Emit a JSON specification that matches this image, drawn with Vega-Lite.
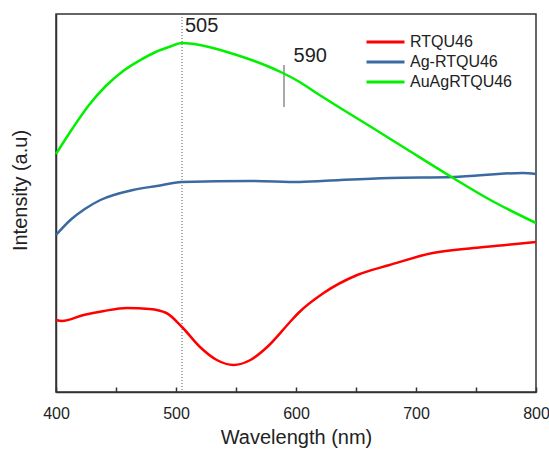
{
  "$schema": "https://vega.github.io/schema/vega-lite/v6.json",
  "width": 480,
  "height": 378,
  "autosize": {"type": "none"},
  "padding": {"left": 56, "top": 14, "right": 13, "bottom": 58},
  "background": "white",
  "config": {
    "font": "Liberation Sans",
    "view": {"stroke": "#333", "strokeWidth": 1.5},
    "axis": {"grid": false, "domainColor": "#333", "domainWidth": 1.5, "tickColor": "#333", "tickWidth": 1.5, "labelColor": "#222", "titleColor": "#222", "labelFont": "Liberation Sans", "titleFont": "Liberation Sans", "titleFontWeight": "normal"}
  },
  "datasets": {
    "spectra": [
      {"series": "RTQU46", "wl": 400, "v": 72},
      {"series": "RTQU46", "wl": 405, "v": 71},
      {"series": "RTQU46", "wl": 423, "v": 77},
      {"series": "RTQU46", "wl": 440, "v": 81},
      {"series": "RTQU46", "wl": 459, "v": 84},
      {"series": "RTQU46", "wl": 478, "v": 83},
      {"series": "RTQU46", "wl": 492, "v": 79},
      {"series": "RTQU46", "wl": 505, "v": 65},
      {"series": "RTQU46", "wl": 520, "v": 45},
      {"series": "RTQU46", "wl": 534, "v": 32},
      {"series": "RTQU46", "wl": 548, "v": 27},
      {"series": "RTQU46", "wl": 562, "v": 32},
      {"series": "RTQU46", "wl": 576, "v": 45},
      {"series": "RTQU46", "wl": 595, "v": 70},
      {"series": "RTQU46", "wl": 602, "v": 79},
      {"series": "RTQU46", "wl": 623, "v": 99},
      {"series": "RTQU46", "wl": 651, "v": 117},
      {"series": "RTQU46", "wl": 678, "v": 127},
      {"series": "RTQU46", "wl": 714, "v": 139},
      {"series": "RTQU46", "wl": 748, "v": 144},
      {"series": "RTQU46", "wl": 775, "v": 147},
      {"series": "RTQU46", "wl": 800, "v": 150},
      {"series": "Ag-RTQU46", "wl": 400, "v": 157},
      {"series": "Ag-RTQU46", "wl": 412, "v": 172},
      {"series": "Ag-RTQU46", "wl": 424, "v": 183},
      {"series": "Ag-RTQU46", "wl": 437, "v": 192},
      {"series": "Ag-RTQU46", "wl": 464, "v": 202},
      {"series": "Ag-RTQU46", "wl": 484, "v": 206},
      {"series": "Ag-RTQU46", "wl": 505, "v": 210},
      {"series": "Ag-RTQU46", "wl": 562, "v": 211},
      {"series": "Ag-RTQU46", "wl": 603, "v": 210},
      {"series": "Ag-RTQU46", "wl": 637, "v": 212},
      {"series": "Ag-RTQU46", "wl": 678, "v": 214},
      {"series": "Ag-RTQU46", "wl": 731, "v": 215},
      {"series": "Ag-RTQU46", "wl": 789, "v": 219},
      {"series": "Ag-RTQU46", "wl": 800, "v": 218},
      {"series": "AuAgRTQU46", "wl": 400, "v": 238},
      {"series": "AuAgRTQU46", "wl": 414, "v": 264},
      {"series": "AuAgRTQU46", "wl": 427.5, "v": 287},
      {"series": "AuAgRTQU46", "wl": 441.5, "v": 306},
      {"series": "AuAgRTQU46", "wl": 456, "v": 321},
      {"series": "AuAgRTQU46", "wl": 469, "v": 331},
      {"series": "AuAgRTQU46", "wl": 483, "v": 340},
      {"series": "AuAgRTQU46", "wl": 494, "v": 345},
      {"series": "AuAgRTQU46", "wl": 505, "v": 349},
      {"series": "AuAgRTQU46", "wl": 520, "v": 347},
      {"series": "AuAgRTQU46", "wl": 548, "v": 338},
      {"series": "AuAgRTQU46", "wl": 576, "v": 326},
      {"series": "AuAgRTQU46", "wl": 589, "v": 319},
      {"series": "AuAgRTQU46", "wl": 603, "v": 310},
      {"series": "AuAgRTQU46", "wl": 617, "v": 299},
      {"series": "AuAgRTQU46", "wl": 645, "v": 278},
      {"series": "AuAgRTQU46", "wl": 664, "v": 264},
      {"series": "AuAgRTQU46", "wl": 692, "v": 243},
      {"series": "AuAgRTQU46", "wl": 731, "v": 214},
      {"series": "AuAgRTQU46", "wl": 762, "v": 192},
      {"series": "AuAgRTQU46", "wl": 800, "v": 169}
    ],
    "marks590": [{"wl": 590, "y1": 285, "y2": 327}],
    "marks505": [{"wl": 505}],
    "labels": [
      {"wl": 507.5, "v": 360, "label": "505"},
      {"wl": 598, "v": 330, "label": "590"}
    ]
  },
  "layer": [
    {
      "data": {"name": "marks505"},
      "mark": {"type": "rule", "color": "#555", "strokeWidth": 1, "strokeDash": [1, 2]},
      "encoding": {"x": {"field": "wl", "type": "quantitative", "scale": {"domain": [400, 800]}}}
    },
    {
      "data": {"name": "marks590"},
      "mark": {"type": "rule", "color": "#555", "strokeWidth": 1},
      "encoding": {
        "x": {"field": "wl", "type": "quantitative"},
        "y": {"field": "y1", "type": "quantitative"},
        "y2": {"field": "y2"}
      }
    },
    {
      "data": {"name": "spectra"},
      "mark": {"type": "line", "strokeWidth": 2.5, "interpolate": "monotone"},
      "encoding": {
        "x": {
          "field": "wl", "type": "quantitative",
          "scale": {"domain": [400, 800], "nice": false},
          "axis": {
            "title": "Wavelength (nm)",
            "values": [400, 450, 500, 550, 600, 650, 700, 750, 800],
            "labelExpr": "datum.value % 100 === 0 ? datum.label : ''",
            "labelFlush": false,
            "labelOverlap": false,
            "tickSize": -5,
            "labelFontSize": 16,
            "labelPadding": 18,
            "titleFontSize": 20,
            "titleBaseline": "alphabetic",
            "titleY": 51
          }
        },
        "y": {
          "field": "v", "type": "quantitative",
          "scale": {"domain": [0, 378], "nice": false},
          "axis": {"title": "Intensity (a.u)", "labels": false, "ticks": false, "titleFontSize": 20, "titleBaseline": "alphabetic", "titleX": -30, "titleY": 176, "titleAngle": -90, "titleAlign": "center"}
        },
        "color": {
          "field": "series", "type": "nominal",
          "scale": {"domain": ["RTQU46", "Ag-RTQU46", "AuAgRTQU46"], "range": ["#ff0000", "#3b6aa0", "#00f000"]},
          "legend": {
            "title": null,
            "orient": "none",
            "legendX": 309,
            "legendY": 18,
            "labelFontSize": 16,
            "labelColor": "#222",
            "symbolType": "stroke",
            "symbolSize": 1444,
            "symbolStrokeWidth": 3,
            "clipHeight": 20,
            "rowPadding": 0,
            "labelOffset": 4
          }
        }
      }
    },
    {
      "data": {"name": "labels"},
      "mark": {"type": "text", "align": "left", "baseline": "alphabetic", "fontSize": 20, "color": "#222"},
      "encoding": {
        "x": {"field": "wl", "type": "quantitative"},
        "y": {"field": "v", "type": "quantitative"},
        "text": {"field": "label"}
      }
    }
  ]
}
